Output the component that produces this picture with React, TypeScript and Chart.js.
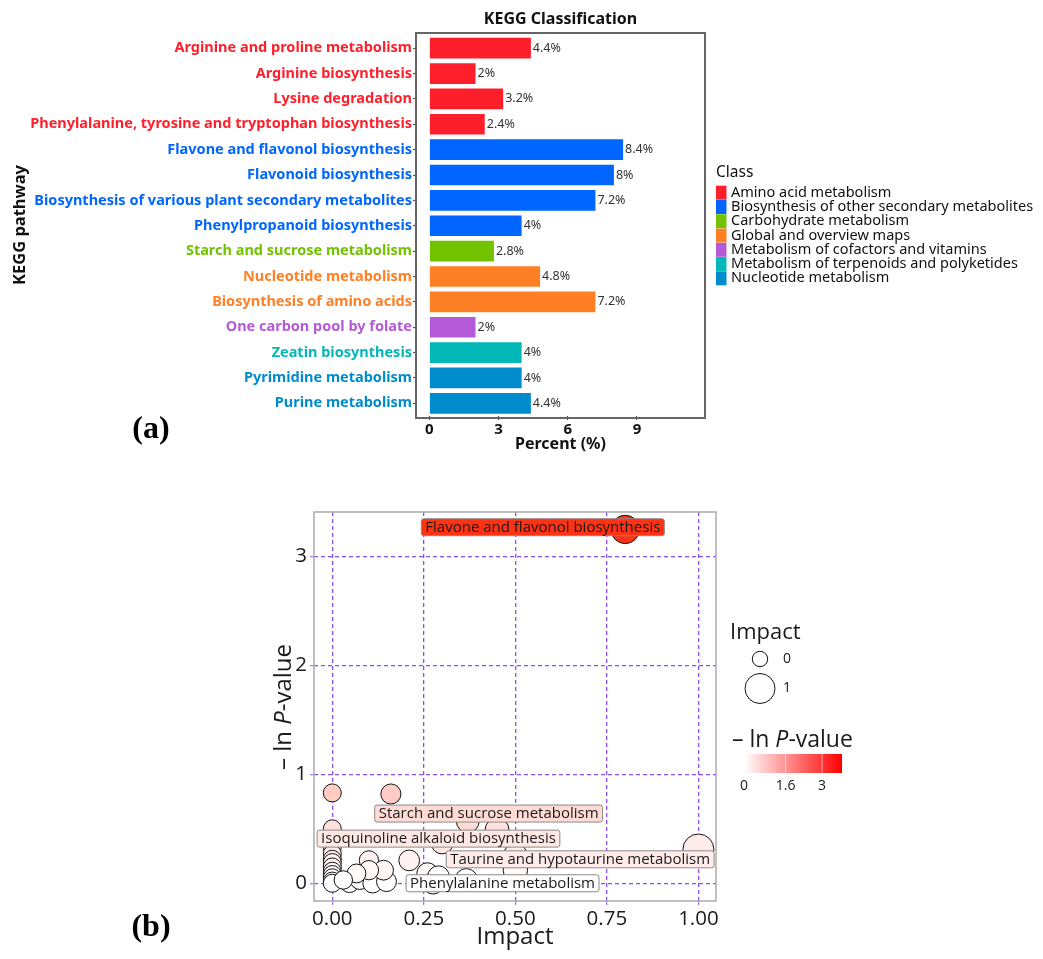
import React, { useEffect, useRef } from "react";
import { Chart, registerables } from "chart.js";

Chart.register(...registerables);

// ---------- Panel (a): KEGG classification ----------
const pathways = [
  "Arginine and proline metabolism",
  "Arginine biosynthesis",
  "Lysine degradation",
  "Phenylalanine, tyrosine and tryptophan biosynthesis",
  "Flavone and flavonol biosynthesis",
  "Flavonoid biosynthesis",
  "Biosynthesis of various plant secondary metabolites",
  "Phenylpropanoid biosynthesis",
  "Starch and sucrose metabolism",
  "Nucleotide metabolism",
  "Biosynthesis of amino acids",
  "One carbon pool by folate",
  "Zeatin biosynthesis",
  "Pyrimidine metabolism",
  "Purine metabolism",
];
const percents = [4.4, 2, 3.2, 2.4, 8.4, 8, 7.2, 4, 2.8, 4.8, 7.2, 2, 4, 4, 4.4];
const pathwayClass = [0, 0, 0, 0, 1, 1, 1, 1, 2, 3, 3, 4, 5, 6, 6];
const classNames = [
  "Amino acid metabolism",
  "Biosynthesis of other secondary metabolites",
  "Carbohydrate metabolism",
  "Global and overview maps",
  "Metabolism of cofactors and vitamins",
  "Metabolism of terpenoids and polyketides",
  "Nucleotide metabolism",
];
const classColors = ["#ff1f2a", "#0066ff", "#72c200", "#ff7f24", "#b45ad8", "#00b8b8", "#008ccc"];
const percentTicks = [0, 3, 6, 9];

// ---------- Panel (b): pathway impact vs. -ln P ----------
const impact = [
  0.8, 0.0, 0.16, 0.0, 0.37, 0.45, 0.3, 1.0, 0.5, 0.5, 0.21, 0.1,
  0.0, 0.0, 0.0, 0.0, 0.0, 0.0, 0.0, 0.0, 0.0, 0.0,
  0.047, 0.075, 0.11, 0.148, 0.14, 0.1, 0.066, 0.26, 0.275, 0.29, 0.366, 0.03,
];
const negLnP = [
  3.25, 0.83, 0.82, 0.5, 0.57, 0.49, 0.37, 0.31, 0.25, 0.12, 0.21, 0.21,
  0.33, 0.27, 0.22, 0.19, 0.15, 0.11, 0.08, 0.05, 0.02, 0.0,
  0.0, 0.03, 0.0, 0.015, 0.12, 0.12, 0.09, 0.09, 0.0, 0.06, 0.03, 0.03,
];
const impactTicks = [0, 0.25, 0.5, 0.75, 1];
const negLnPTicks = [0, 1, 2, 3];

// labelled pathways: text, index of the point, label centre (impact, -ln P)
const labelText = [
  "Flavone and flavonol biosynthesis",
  "Starch and sucrose metabolism",
  "Isoquinoline alkaloid biosynthesis",
  "Taurine and hypotaurine metabolism",
  "Phenylalanine metabolism",
];
const labelPoint = [0, 4, 6, 7, 32];
const labelX = [0.575, 0.427, 0.29, 0.677, 0.465];
const labelY = [3.27, 0.64, 0.41, 0.22, 0.0];

const sizeLegendValues = [0, 1];
const sizeLegendRadius = [7.7, 15];
const colorbarTicks = [0, 1.6, 3];

const SANS_A = "'Noto Sans', 'DejaVu Sans', sans-serif";
const SANS_B = "'Open Sans', 'Noto Sans', sans-serif";
const SERIF = "'Liberation Serif', 'DejaVu Serif', serif";

const W = 1043;
const HA = 470;
const HB = 489;
const OFFSET_B = HA;

function heat(v: number): string {
  const t = Math.max(0, Math.min(1, v / 3.25));
  const g = Math.round(255 + (50 - 255) * t);
  const b = Math.round(255 + (20 - 255) * t);
  return `rgb(255,${g},${b})`;
}

function bubbleRadius(x: number): number {
  return 9 + 6.5 * x;
}

function roundRect(ctx: CanvasRenderingContext2D, x: number, y: number, w: number, h: number, r: number) {
  ctx.beginPath();
  ctx.moveTo(x + r, y);
  ctx.lineTo(x + w - r, y);
  ctx.arcTo(x + w, y, x + w, y + r, r);
  ctx.lineTo(x + w, y + h - r);
  ctx.arcTo(x + w, y + h, x + w - r, y + h, r);
  ctx.lineTo(x + r, y + h);
  ctx.arcTo(x, y + h, x, y + h - r, r);
  ctx.lineTo(x, y + r);
  ctx.arcTo(x, y, x + r, y, r);
  ctx.closePath();
}

// draws "– ln P-value" with an italic P, starting at x (left), centred on y
function drawLnP(ctx: CanvasRenderingContext2D, x: number, y: number, size: number) {
  const a = "\u2013 ln ";
  const p = "P";
  const c = "-value";
  ctx.textBaseline = "middle";
  ctx.textAlign = "left";
  ctx.font = `${size}px ${SANS_B}`;
  ctx.fillText(a, x, y);
  let cx = x + ctx.measureText(a).width;
  ctx.font = `italic ${size}px ${SANS_B}`;
  ctx.fillText(p, cx, y);
  cx += ctx.measureText(p).width;
  ctx.font = `${size}px ${SANS_B}`;
  ctx.fillText(c, cx, y);
}
function lnPWidth(ctx: CanvasRenderingContext2D, size: number) {
  ctx.font = `${size}px ${SANS_B}`;
  let w = ctx.measureText("\u2013 ln ").width + ctx.measureText("-value").width;
  ctx.font = `italic ${size}px ${SANS_B}`;
  w += ctx.measureText("P").width;
  return w;
}

const decorA = {
  id: "decorA",
  afterDatasetsDraw(chart: any) {
    const ctx: CanvasRenderingContext2D = chart.ctx;
    const xs = chart.scales.x;
    const ys = chart.scales.y;
    ctx.save();
    // value labels
    ctx.font = `12.5px ${SANS_A}`;
    ctx.fillStyle = "#333";
    ctx.textAlign = "left";
    ctx.textBaseline = "middle";
    percents.forEach((v, i) => {
      ctx.fillText(`${v}%`, xs.getPixelForValue(v) + 2, ys.getPixelForValue(i));
    });
    // panel frame
    const area = chart.chartArea;
    ctx.strokeStyle = "#666";
    ctx.lineWidth = 2;
    ctx.strokeRect(area.left, 33, area.right - area.left, 418 - 33);
    // titles
    ctx.fillStyle = "#111";
    ctx.textAlign = "center";
    ctx.font = `bold 16px ${SANS_A}`;
    ctx.fillText("KEGG Classification", (area.left + area.right) / 2, 19);
    ctx.fillText("Percent (%)", (area.left + area.right) / 2, 444);
    ctx.save();
    ctx.translate(20, 225);
    ctx.rotate(-Math.PI / 2);
    ctx.font = `bold 16.5px ${SANS_A}`;
    ctx.fillText("KEGG pathway", 0, 0);
    ctx.restore();
    // class legend
    ctx.textAlign = "left";
    ctx.font = `15.5px ${SANS_A}`;
    ctx.fillText("Class", 716, 173);
    ctx.font = `14.5px ${SANS_A}`;
    classNames.forEach((name, i) => {
      const cy = 192.7 + i * 14.27;
      ctx.fillStyle = classColors[i];
      ctx.fillRect(716, cy - 7, 10.5, 14);
      ctx.fillStyle = "#111";
      ctx.fillText(name, 731, cy);
    });
    // panel tag
    ctx.font = `bold 32px ${SERIF}`;
    ctx.textAlign = "center";
    ctx.fillStyle = "#000";
    ctx.fillText("(a)", 151, 430);
    ctx.restore();
  },
};

const decorB = {
  id: "decorB",
  afterDatasetsDraw(chart: any) {
    const ctx: CanvasRenderingContext2D = chart.ctx;
    const xs = chart.scales.x;
    const ys = chart.scales.y;
    const area = chart.chartArea;
    ctx.save();
    // pathway labels
    ctx.font = `15px ${SANS_B}`;
    ctx.textBaseline = "middle";
    ctx.textAlign = "center";
    labelText.forEach((t, i) => {
      const cx = xs.getPixelForValue(labelX[i]);
      const cy = ys.getPixelForValue(labelY[i]);
      const w = ctx.measureText(t).width + 8;
      const h = 17;
      roundRect(ctx, cx - w / 2, cy - h / 2, w, h, 2.5);
      ctx.fillStyle = heat(negLnP[labelPoint[i]]);
      ctx.fill();
      ctx.strokeStyle = "#8a8a8a";
      ctx.lineWidth = 1;
      ctx.stroke();
      ctx.fillStyle = "#1a1a1a";
      ctx.fillText(t, cx, cy + 0.5);
    });
    // panel frame
    ctx.strokeStyle = "#aaa";
    ctx.lineWidth = 1.5;
    ctx.strokeRect(area.left, area.top, area.right - area.left, area.bottom - area.top);
    // axis titles
    ctx.fillStyle = "#1a1a1a";
    ctx.font = `24px ${SANS_B}`;
    ctx.textAlign = "center";
    ctx.fillText("Impact", (area.left + area.right) / 2, 937 - OFFSET_B);
    ctx.save();
    ctx.translate(284, 707 - OFFSET_B);
    ctx.rotate(-Math.PI / 2);
    const tw = lnPWidth(ctx, 24);
    drawLnP(ctx, -tw / 2, 0, 24);
    ctx.restore();

    // size legend
    ctx.textAlign = "left";
    ctx.fillStyle = "#1a1a1a";
    ctx.font = `22px ${SANS_B}`;
    ctx.fillText("Impact", 730, 633 - OFFSET_B);
    sizeLegendValues.forEach((v, i) => {
      const cy = (i === 0 ? 659 : 688.5) - OFFSET_B;
      ctx.beginPath();
      ctx.arc(760, cy, sizeLegendRadius[i], 0, Math.PI * 2);
      ctx.strokeStyle = "#111";
      ctx.lineWidth = 1;
      ctx.stroke();
      ctx.font = `14px ${SANS_B}`;
      ctx.fillText(String(v), 783, cy);
    });

    // colour legend
    ctx.fillStyle = "#1a1a1a";
    drawLnP(ctx, 732, 740 - OFFSET_B, 23);
    const x0 = 744;
    const pxPerUnit = 26;
    const barL = 746;
    const barR = 842;
    const top = 754 - OFFSET_B;
    const hgt = 19;
    const grad = ctx.createLinearGradient(x0, 0, barR, 0);
    grad.addColorStop(0, "#ffffff");
    grad.addColorStop(1, "#ff0000");
    ctx.fillStyle = grad;
    ctx.fillRect(barL, top, barR - barL, hgt);
    ctx.strokeStyle = "rgba(255,255,255,0.6)";
    ctx.lineWidth = 1;
    ctx.font = `14px ${SANS_B}`;
    ctx.textAlign = "center";
    colorbarTicks.forEach((v) => {
      const px = x0 + v * pxPerUnit;
      if (v > 0) {
        ctx.beginPath();
        ctx.moveTo(px, top);
        ctx.lineTo(px, top + hgt);
        ctx.stroke();
      }
      ctx.fillStyle = "#1a1a1a";
      ctx.fillText(String(v), px, 786 - OFFSET_B);
    });

    // panel tag
    ctx.font = `bold 32px ${SERIF}`;
    ctx.textAlign = "center";
    ctx.fillStyle = "#000";
    ctx.fillText("(b)", 151, 928 - OFFSET_B);
    ctx.restore();
  },
};

export default function App() {
  const aRef = useRef<HTMLCanvasElement>(null);
  const bRef = useRef<HTMLCanvasElement>(null);

  useEffect(() => {
    const chartA = new Chart(aRef.current as HTMLCanvasElement, {
      type: "bar",
      data: {
        labels: pathways,
        datasets: [
          {
            data: percents,
            backgroundColor: pathwayClass.map((c) => classColors[c]),
            barPercentage: 0.815,
            categoryPercentage: 1,
          },
        ],
      },
      options: {
        indexAxis: "y",
        responsive: false,
        animation: false,
        events: [],
        layout: { padding: { top: 35.5, right: W - 705, bottom: 0, left: 0 } },
        plugins: { legend: { display: false }, tooltip: { enabled: false } },
        scales: {
          x: {
            type: "linear",
            min: -0.58,
            max: 11.95,
            afterBuildTicks: (s: any) => {
              s.ticks = percentTicks.map((v) => ({ value: v }));
            },
            afterFit: (s: any) => {
              s.height = HA - 416;
            },
            grid: { drawOnChartArea: false, tickLength: 4, tickColor: "#555", tickWidth: 1.2 },
            border: { display: false },
            ticks: {
              color: "#111",
              padding: 1,
              font: { family: SANS_A, size: 15, weight: "bold" },
            },
          },
          y: {
            afterFit: (s: any) => {
              s.width = 416;
            },
            grid: { drawOnChartArea: false, offset: false, tickLength: 3, tickColor: "#555", tickWidth: 1.2 },
            border: { display: false },
            ticks: {
              padding: 1,
              color: (ctx: any) => classColors[pathwayClass[ctx.index]],
              font: { family: SANS_A, size: 14.5, weight: "bold" },
            },
          },
        },
      },
      plugins: [decorA],
    } as any);

    const chartB = new Chart(bRef.current as HTMLCanvasElement, {
      type: "bubble",
      data: {
        datasets: [
          {
            data: impact.map((x, i) => ({ x, y: negLnP[i], r: bubbleRadius(x) })),
            backgroundColor: negLnP.map(heat),
            borderColor: "#111",
            borderWidth: 1,
          },
        ],
      },
      options: {
        responsive: false,
        animation: false,
        events: [],
        clip: false,
        layout: { padding: { top: 512 - OFFSET_B, right: W - 716, bottom: 0, left: 0 } },
        plugins: { legend: { display: false }, tooltip: { enabled: false } },
        scales: {
          x: {
            type: "linear",
            min: -0.05,
            max: 1.048,
            afterBuildTicks: (s: any) => {
              s.ticks = impactTicks.map((v) => ({ value: v }));
            },
            afterFit: (s: any) => {
              s.height = HB - (901 - OFFSET_B);
            },
            grid: {
              color: "#8a4dff",
              lineWidth: 1.3,
              tickLength: 4,
              tickColor: "#9a80d0",
              tickWidth: 1.2,
            },
            border: { display: false, dash: [4, 3] },
            ticks: {
              color: "#1a1a1a",
              padding: 2,
              font: { family: SANS_B, size: 20.5 },
              callback: (v: any) => Number(v).toFixed(2),
            },
          },
          y: {
            type: "linear",
            min: -0.163,
            max: 3.41,
            afterBuildTicks: (s: any) => {
              s.ticks = negLnPTicks.map((v) => ({ value: v }));
            },
            afterFit: (s: any) => {
              s.width = 314;
            },
            grid: {
              color: "#8a4dff",
              lineWidth: 1.3,
              tickLength: 4,
              tickColor: "#9a80d0",
              tickWidth: 1.2,
            },
            border: { display: false, dash: [4, 3] },
            ticks: {
              color: "#1a1a1a",
              padding: 3,
              font: { family: SANS_B, size: 20.5 },
            },
          },
        },
      },
      plugins: [decorB],
    } as any);

    return () => {
      chartA.destroy();
      chartB.destroy();
    };
  }, []);

  return (
    <div style={{ position: "absolute", left: 0, top: 0, width: W, height: HA + HB, background: "#fff" }}>
      <canvas
        ref={aRef}
        width={W}
        height={HA}
        style={{ position: "absolute", left: 0, top: 0, width: W, height: HA }}
      />
      <canvas
        ref={bRef}
        width={W}
        height={HB}
        style={{ position: "absolute", left: 0, top: OFFSET_B, width: W, height: HB }}
      />
    </div>
  );
}
